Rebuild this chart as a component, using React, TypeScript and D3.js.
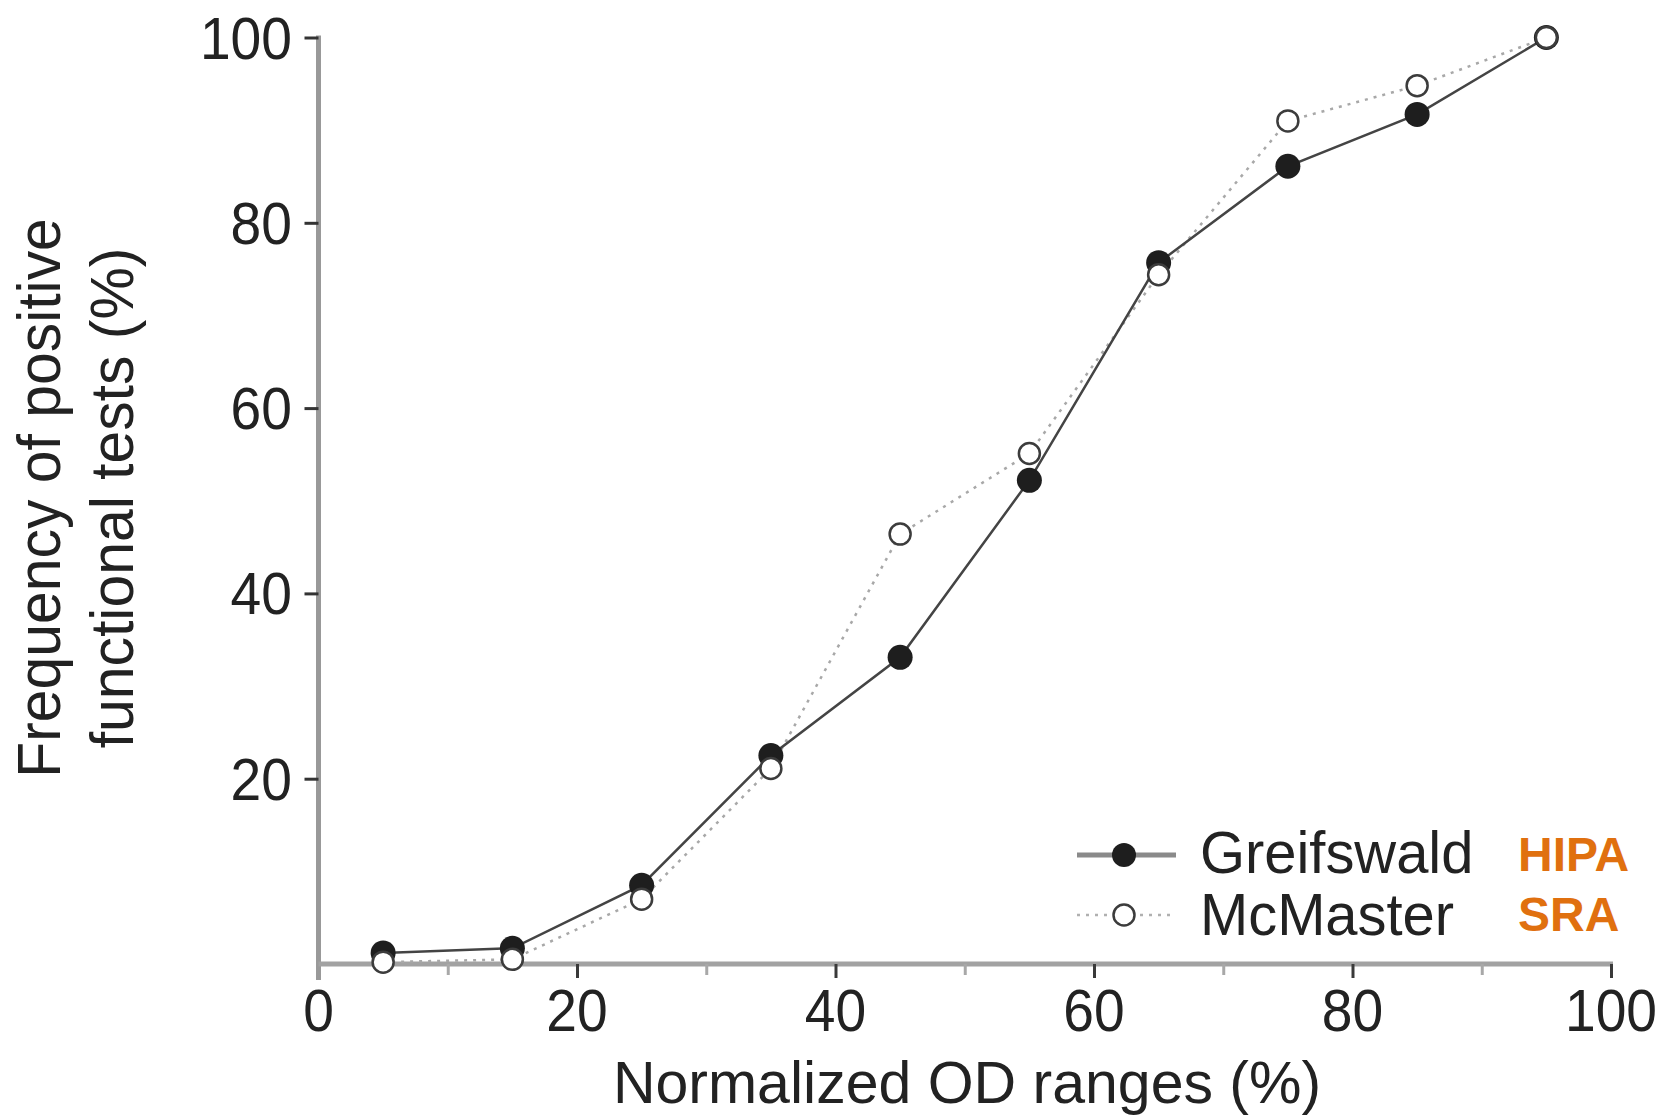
import React, { useEffect, useRef } from 'react';
import * as d3 from 'd3';

// OD range bins (midpoints, %)
const odBins = [5, 15, 25, 35, 45, 55, 65, 75, 85, 95];
// frequency of positive functional tests (%)
const greifswald = [1.2, 1.7, 8.5, 22.5, 33.1, 52.2, 75.7, 86.1, 91.7, 100];
const mcmaster = [0.2, 0.5, 7.0, 21.1, 46.4, 55.1, 74.4, 91.0, 94.8, 100];

const xTicks = [0, 10, 20, 30, 40, 50, 60, 70, 80, 90, 100];
const xLabels = [0, 20, 40, 60, 80, 100];
const yTicks = [20, 40, 60, 80, 100];

const seriesNames = ['Greifswald', 'McMaster'];
const assayNames = ['HIPA', 'SRA'];

const FONT = '"Liberation Sans", Arial, Helvetica, sans-serif';

// text squeezed a bit horizontally, like the original typeface
function addText(parent: any, x: number, y: number, str: string, o: any = {}) {
  const g = parent.append('g')
    .attr('transform', `translate(${x},${y}) rotate(${o.rotate || 0}) scale(${o.sx || 1},1)`);
  g.append('text')
    .attr('text-anchor', o.anchor || 'start')
    .attr('font-family', FONT)
    .attr('font-size', o.size || 60)
    .attr('font-weight', o.weight || 'normal')
    .attr('fill', o.fill || '#222')
    .text(str);
  return g;
}

export default function App() {
  const ref = useRef<SVGSVGElement>(null);

  useEffect(() => {
    const svg = d3.select(ref.current);
    svg.selectAll('*').remove();

    const x = d3.scaleLinear().domain([0, 100]).range([318.5, 1611]);
    const y = d3.scaleLinear().domain([0, 100]).range([964, 37.5]);

    const g = svg.append('g');

    // axis lines
    g.append('line')
      .attr('x1', x(0)).attr('x2', x(0))
      .attr('y1', y(100) - 2).attr('y2', y(0) + 16)
      .attr('stroke', '#999').attr('stroke-width', 5);
    g.append('line')
      .attr('x1', x(0)).attr('x2', x(100) + 2)
      .attr('y1', y(0)).attr('y2', y(0))
      .attr('stroke', '#a2a2a2').attr('stroke-width', 5);

    // x ticks
    const xAxis = d3.axisBottom(x)
      .tickValues(xTicks)
      .tickSize(13)
      .tickSizeOuter(0)
      .tickFormat(() => '');
    const xg = g.append('g').attr('transform', `translate(0,${y(0)})`).call(xAxis);
    xg.select('.domain').remove();
    xg.selectAll('.tick line')
      .attr('stroke', (d: any) => (d % 20 === 0 ? '#3a3a3a' : '#a8a8a8'))
      .attr('stroke-width', 3)
      .attr('y2', (d: any) => (d === 0 ? 0 : d % 20 === 0 ? 14 : 11));
    xLabels.forEach(v => {
      addText(g, x(v), 1031, String(v), { size: 60, sx: 0.92, anchor: 'middle' });
    });

    // y ticks
    const yAxis = d3.axisLeft(y)
      .tickValues(yTicks)
      .tickSize(14)
      .tickSizeOuter(0)
      .tickFormat(() => '');
    const yg = g.append('g').attr('transform', `translate(${x(0)},0)`).call(yAxis);
    yg.select('.domain').remove();
    yg.selectAll('.tick line').attr('stroke', '#333').attr('stroke-width', 3);
    yTicks.forEach(v => {
      addText(g, 292, y(v) + 21, String(v), { size: 60, sx: 0.92, anchor: 'end' });
    });

    // lines
    const line = d3.line<number>()
      .x((d, i) => x(odBins[i]))
      .y(d => y(d));

    g.append('path')
      .datum(mcmaster)
      .attr('d', line)
      .attr('fill', 'none')
      .attr('stroke', '#a8a8a8')
      .attr('stroke-width', 2.5)
      .attr('stroke-dasharray', '3,6');

    g.append('path')
      .datum(greifswald)
      .attr('d', line)
      .attr('fill', 'none')
      .attr('stroke', '#444')
      .attr('stroke-width', 2.5);

    // markers
    g.append('g').selectAll('circle')
      .data(greifswald)
      .enter()
        .append('circle')
        .attr('cx', (d, i) => x(odBins[i]))
        .attr('cy', d => y(d))
        .attr('r', 12.5)
        .attr('fill', '#1e1e1e');

    g.append('g').selectAll('circle')
      .data(mcmaster)
      .enter()
        .append('circle')
        .attr('cx', (d, i) => x(odBins[i]))
        .attr('cy', d => y(d))
        .attr('r', 10.5)
        .attr('fill', '#fff')
        .attr('stroke', '#3c3c3c')
        .attr('stroke-width', 2.5);

    // legend
    const leg = g.append('g');
    const legY = [855, 915];
    leg.append('line')
      .attr('x1', 1077).attr('x2', 1176)
      .attr('y1', legY[0]).attr('y2', legY[0])
      .attr('stroke', '#8a8a8a').attr('stroke-width', 5);
    leg.append('circle')
      .attr('cx', 1124).attr('cy', legY[0]).attr('r', 12).attr('fill', '#1e1e1e');
    leg.append('line')
      .attr('x1', 1077).attr('x2', 1176)
      .attr('y1', legY[1]).attr('y2', legY[1])
      .attr('stroke', '#b0b0b0').attr('stroke-width', 2.5)
      .attr('stroke-dasharray', '3,6');
    leg.append('circle')
      .attr('cx', 1124).attr('cy', legY[1]).attr('r', 10.5)
      .attr('fill', '#fff').attr('stroke', '#3c3c3c').attr('stroke-width', 2.5);

    seriesNames.forEach((name, i) => {
      addText(leg, 1200, [873, 935][i], name, { size: 60, sx: 0.965 });
    });
    assayNames.forEach((name, i) => {
      addText(leg, 1518, [871, 931][i], name, { size: 48, weight: 'bold', fill: '#e0700f' });
    });

    // axis titles
    addText(g, 967, 1103, 'Normalized OD ranges (%)', { size: 59, anchor: 'middle' });

    const yTitle = ['Frequency of positive', 'functional tests (%)'];
    [60, 133].forEach((bx, i) => {
      addText(g, bx, 498, yTitle[i], { size: 62, sx: 0.95, anchor: 'middle', rotate: -90 });
    });
  }, []);

  return (
    <div style={{ position: 'absolute', left: 0, top: 0 }}>
      <svg ref={ref} width={1676} height={1115} style={{ display: 'block', background: '#fff' }} />
    </div>
  );
}
